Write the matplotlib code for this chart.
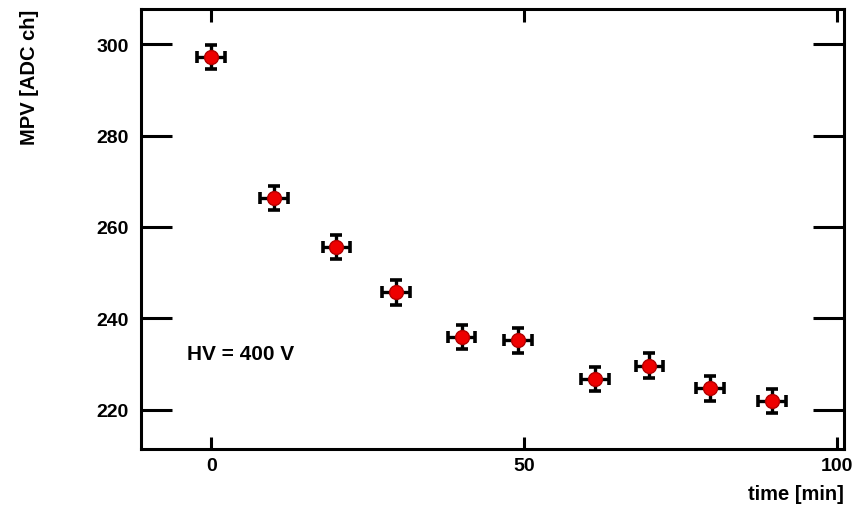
import matplotlib.pyplot as plt

plt.rcParams['font.family'] = ['Liberation Sans', 'DejaVu Sans']
plt.rcParams['font.weight'] = 'bold'

time_min = [0, 10, 20, 29.5, 40, 49, 61.3, 70, 79.7, 89.6]
mpv = [297.2, 266.3, 255.6, 245.7, 235.9, 235.2, 226.7, 229.6, 224.7, 221.9]
time_err = [2.2] * len(time_min)
mpv_err = [2.7] * len(mpv)

fig = plt.figure(figsize=(8.61, 5.06), dpi=100)
ax = fig.add_axes([0.1638, 0.1107, 0.8165, 0.8705])

ax.errorbar(time_min, mpv, xerr=time_err, yerr=mpv_err, fmt='o',
            color='#ee0000', markersize=10, markeredgecolor='#b00000',
            ecolor='black', elinewidth=2.4, capsize=4, capthick=2.6, zorder=3)

ax.set_xlim(-11.2, 101.1)
ax.set_ylim(211.4, 307.8)
ax.set_xticks([0, 50, 100])
ax.set_yticks([220, 240, 260, 280, 300])

for s in ax.spines.values():
    s.set_linewidth(2.2)
ax.tick_params(axis='x', which='major', direction='in', length=9, width=2.2,
               top=True, labelsize=14, pad=6)
ax.tick_params(axis='y', which='major', direction='in', length=22, width=2.2,
               right=True, labelsize=14, pad=9)

ax.set_xlabel('time [min]', fontsize=14.5, fontweight='bold')
ax.xaxis.set_label_coords(1.0, -0.101)
ax.xaxis.label.set_horizontalalignment('right')
ax.xaxis.label.set_verticalalignment('center')
ax.set_ylabel('MPV [ADC ch]', fontsize=14.5, fontweight='bold')
ax.yaxis.set_label_coords(-0.158, 1.0)
ax.yaxis.label.set_verticalalignment('center')
ax.yaxis.label.set_horizontalalignment('right')

ax.text(-3.8, 232.2, 'HV = 400 V', fontsize=15, fontweight='bold',
        ha='left', va='center')

fig.savefig('out.png', dpi=100)
